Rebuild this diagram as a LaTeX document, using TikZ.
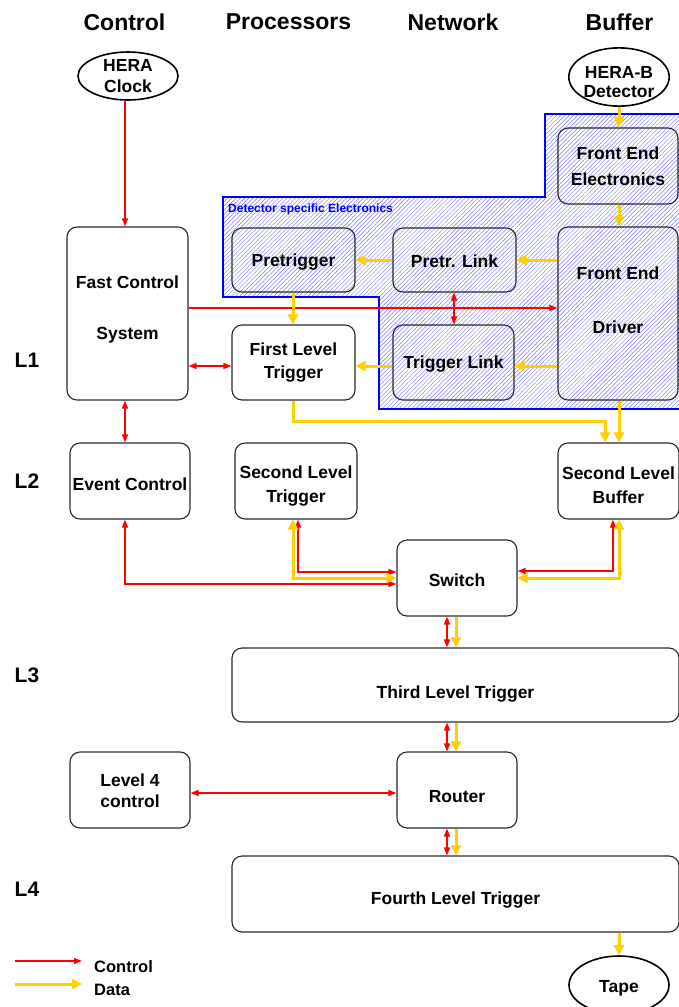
\documentclass[tikz,border=0pt]{standalone}
\usepackage{fontspec}
\setmainfont{Liberation Sans}
\usetikzlibrary{arrows.meta,patterns.meta,shapes.geometric}
\definecolor{gold}{RGB}{255,208,0}
\definecolor{boxline}{RGB}{40,40,40}
\definecolor{hatch}{RGB}{125,125,255}
\newcommand\bxfont{\fontsize{17.5}{24}\selectfont\bfseries}
\newcommand\hdfont{\fontsize{23}{26}\selectfont\bfseries}
\newcommand\dn[1]{\rule{0pt}{#1}}
\newcommand\up[1]{\rule[-#1]{0pt}{1pt}}
\begin{document}
\begin{tikzpicture}[x=1pt,y=-1pt,
  box/.style={draw=boxline, line width=1.1pt, rounded corners=10pt, fill=white, align=center, font=\bxfont, inner sep=0pt},
  hbox/.style={box, fill=none},
  oval/.style={ellipse, draw=black, line width=1.6pt, fill=white, align=center, font=\bxfont, inner sep=0pt},
  hd/.style={font=\hdfont, inner sep=0pt},
  ctl/.style={draw=red, line width=1.3pt, -{Triangle[length=8pt,width=6pt]}},
  ctlb/.style={draw=red, line width=1.3pt, {Triangle[length=8pt,width=6pt]}-{Triangle[length=8pt,width=6pt]}},
  dat/.style={draw=gold, line width=3pt, -{Triangle[length=10pt,width=10pt]}},
  datb/.style={draw=gold, line width=3pt, {Triangle[length=10pt,width=10pt]}-{Triangle[length=10pt,width=10pt]}},
]
\useasboundingbox (0,0) rectangle (679,1007);

% headers
\node[hd] (hc) at (124.5,22) {Control};
\node[hd] (hp) at (288.5,22) {Processors};
\node[hd] (hn) at (453,22) {Network};
\node[hd] (hb) at (619.5,22) {Buffer};

% level labels
\node[font=\fontsize{21}{24}\selectfont\bfseries, inner sep=0pt] (l1) at (27,360) {L1};
\node[font=\fontsize{21}{24}\selectfont\bfseries, inner sep=0pt] (l2) at (27,481) {L2};
\node[font=\fontsize{21}{24}\selectfont\bfseries, inner sep=0pt] (l3) at (27,675) {L3};
\node[font=\fontsize{21}{24}\selectfont\bfseries, inner sep=0pt] (l4) at (27,889) {L4};

% detector specific region
\fill[white] (223,197) -- (545,197) -- (545,114) -- (690,114) -- (690,409) -- (379,409) -- (379,297) -- (223,297) -- cycle;
\fill[pattern={Lines[angle=45,distance=3pt,line width=0.45pt]}, pattern color=hatch]
  (223,197) -- (545,197) -- (545,114) -- (690,114) -- (690,409) -- (379,409) -- (379,297) -- (223,297) -- cycle;
\draw[draw=blue, line width=1.8pt]
  (223,197) -- (545,197) -- (545,114) -- (690,114) -- (690,409) -- (379,409) -- (379,297) -- (223,297) -- cycle;
\node[anchor=west, text=blue, font=\fontsize{12}{14}\selectfont\bfseries, inner sep=0pt] (dse) at (228,209) {Detector specific Electronics};

% ellipses
\node[oval, minimum width=100, minimum height=48] (clock) at (128,76) {HERA\\[-3pt]Clock};
\node[oval, minimum width=99, minimum height=46] (det) at (619,77) {\dn{22pt}HERA-B\\[-5pt]Detector};
\node[oval, minimum width=100, minimum height=58] (tape) at (619,985) {\dn{18pt}Tape};

% boxes
\node[box, minimum width=121, minimum height=173] (fcs) at (127.5,313.5) {Fast Control\\[27pt]System\up{12pt}};
\node[hbox, minimum width=120, minimum height=76] (fee) at (618,166) {Front End\\[2pt]Electronics};
\node[hbox, minimum width=120, minimum height=173] (fed) at (618,313.5) {Front End\\[30pt]Driver\up{26pt}};
\node[hbox, minimum width=123, minimum height=64] (pre) at (293.5,260) {\dn{16pt}Pretrigger};
\node[hbox, minimum width=123, minimum height=64] (plink) at (454.5,260) {\dn{16pt}Pretr. Link};
\node[hbox, minimum width=121, minimum height=75] (tlink) at (453.5,362.5) {\dn{16pt}Trigger Link};
\node[box, minimum width=123, minimum height=75] (flt) at (293.5,362.5) {First Level\\[-1pt]Trigger};
\node[box, minimum width=120, minimum height=76] (ec) at (130,481) {\dn{20pt}Event Control};
\node[box, minimum width=122, minimum height=76] (slt) at (296,481) {\dn{22pt}Second Level\\Trigger};
\node[box, minimum width=121, minimum height=76] (slb) at (618.5,481) {\dn{22pt}Second Level\\Buffer};
\node[box, minimum width=120, minimum height=76] (sw) at (457,578) {\dn{17pt}Switch};
\node[box, minimum width=447, minimum height=74] (tlt) at (455.5,685) {\dn{30pt}Third Level Trigger};
\node[box, minimum width=120, minimum height=76] (l4c) at (130,790) {\dn{15pt}Level 4\\[-3pt]control};
\node[box, minimum width=120, minimum height=76] (router) at (457,790) {\dn{25pt}Router};
\node[box, minimum width=447, minimum height=76] (flt4) at (455.5,894) {\dn{24pt}Fourth Level Trigger};

% control connectors
\draw[ctl] (clock.south -| 125,0) -- (fcs.north -| 125,0);
\draw[ctl] (fcs.east |- 0,308) -- (fed.west |- 0,308);
\draw[ctlb] (fcs.east |- 0,366) -- (flt.west |- 0,366);
\draw[ctlb] (fcs.south -| 125,0) -- (ec.north -| 125,0);
\draw[ctlb] (plink.south -| 454,0) -- (tlink.north -| 454,0);
\draw[ctlb] (ec.south -| 125,0) |- (sw.west |- 0,584);
\draw[ctlb] (slt.south -| 298,0) |- (sw.west |- 0,572);
\draw[ctlb] (slb.south -| 613,0) |- (sw.east |- 0,571);
\draw[ctlb] (sw.south -| 447,0) -- (tlt.north -| 447,0);
\draw[ctlb] (tlt.south -| 447,0) -- (router.north -| 447,0);
\draw[ctlb] (l4c.east |- 0,793) -- (router.west |- 0,793);
\draw[ctlb] (router.south -| 447,0) -- (flt4.north -| 447,0);

% data connectors
\draw[dat] (det.south -| 619,0) -- (fee.north -| 619,0);
\draw[dat] (fee.south -| 619,0) -- (fed.north -| 619,0);
\draw[dat] (fed.west |- 0,260) -- (plink.east |- 0,260);
\draw[dat] (plink.west |- 0,260) -- (pre.east |- 0,260);
\draw[dat] (pre.south -| 293,0) -- (flt.north -| 293,0);
\draw[dat] (fed.west |- 0,366) -- (tlink.east |- 0,366);
\draw[dat] (tlink.west |- 0,366) -- (flt.east |- 0,366);
\draw[dat] (flt.south -| 293,0) -- (293,421) -- (605,421) -- (slb.north -| 605,0);
\draw[dat] (fed.south -| 619,0) -- (slb.north -| 619,0);
\draw[datb] (slt.south -| 293,0) |- (sw.west |- 0,578);
\draw[datb] (slb.south -| 619,0) |- (sw.east |- 0,578);
\draw[dat] (sw.south -| 456,0) -- (tlt.north -| 456,0);
\draw[dat] (tlt.south -| 456,0) -- (router.north -| 456,0);
\draw[dat] (router.south -| 456,0) -- (flt4.north -| 456,0);
\draw[dat] (flt4.south -| 619,0) -- (tape.north);

% legend
\coordinate (lca) at (15,961);
\coordinate (lcb) at (82,961);
\coordinate (lda) at (15,984);
\coordinate (ldb) at (82,984);
\draw[ctl] (lca) -- (lcb);
\draw[dat] (lda) -- (ldb);
\node[anchor=west, font=\fontsize{16.5}{20}\selectfont\bfseries, inner sep=0pt] (lgc) at (94,967) {Control};
\node[anchor=west, font=\fontsize{16.5}{20}\selectfont\bfseries, inner sep=0pt] (lgd) at (94,990) {Data};
\end{tikzpicture}
\end{document}
